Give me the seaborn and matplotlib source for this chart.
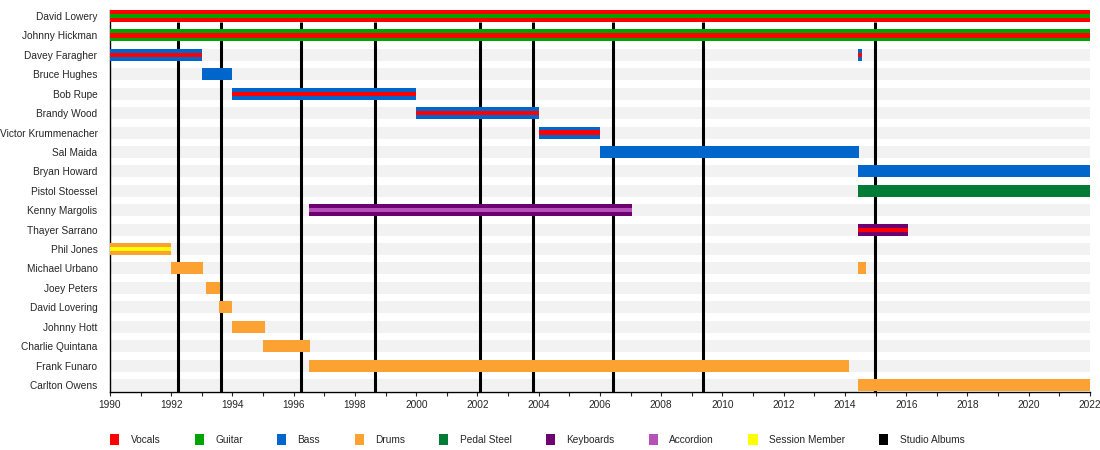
"""Cracker members timeline, redrawn with seaborn/matplotlib."""
import matplotlib
matplotlib.use('Agg')
import matplotlib.pyplot as plt
from matplotlib.patches import Patch
from matplotlib.ticker import MultipleLocator
import seaborn as sns

members = [
    'David Lowery', 'Johnny Hickman', 'Davey Faragher', 'Bruce Hughes',
    'Bob Rupe', 'Brandy Wood', 'Victor Krummenacher', 'Sal Maida',
    'Bryan Howard', 'Pistol Stoessel', 'Kenny Margolis', 'Thayer Sarrano',
    'Phil Jones', 'Michael Urbano', 'Joey Peters', 'David Lovering',
    'Johnny Hott', 'Charlie Quintana', 'Frank Funaro', 'Carlton Owens',
]

roles = ['Vocals', 'Guitar', 'Bass', 'Drums', 'Pedal Steel', 'Keyboards',
         'Accordion', 'Session Member', 'Studio Albums']
role_colors = ['#ff0000', '#00a300', '#0066cc', '#fca232', '#007c36',
               '#6e0072', '#b452b8', '#ffff00', '#000000']

# one entry per bar
bar_member = ['David Lowery', 'Johnny Hickman', 'Davey Faragher', 'Davey Faragher',
              'Bruce Hughes', 'Bob Rupe', 'Brandy Wood', 'Victor Krummenacher',
              'Sal Maida', 'Bryan Howard', 'Pistol Stoessel', 'Kenny Margolis',
              'Thayer Sarrano', 'Phil Jones', 'Michael Urbano', 'Michael Urbano',
              'Joey Peters', 'David Lovering', 'Johnny Hott', 'Charlie Quintana',
              'Frank Funaro', 'Carlton Owens']
bar_start = [1990, 1990, 1990, 2014.42, 1993, 1994, 2000, 2004, 2006, 2014.42,
             2014.42, 1996.5, 2014.42, 1990, 1992, 2014.42, 1993.13, 1993.57,
             1994, 1995, 1996.5, 2014.42]
bar_end = [2022, 2022, 1993, 2014.55, 1994, 2000, 2004, 2006, 2014.45, 2022,
           2022, 2007.05, 2016.05, 1992, 1993.05, 2014.68, 1993.58, 1994,
           1995.05, 1996.53, 2014.12, 2022]
bar_role = ['Vocals', 'Guitar', 'Bass', 'Bass', 'Bass', 'Bass', 'Bass', 'Bass',
            'Bass', 'Bass', 'Pedal Steel', 'Keyboards', 'Keyboards', 'Drums',
            'Drums', 'Drums', 'Drums', 'Drums', 'Drums', 'Drums', 'Drums', 'Drums']
bar_stripe = ['Guitar', 'Vocals', 'Vocals', 'Vocals', None, 'Vocals', 'Vocals',
              'Vocals', None, None, None, 'Accordion', 'Vocals', 'Session Member',
              None, None, None, None, None, None, None, None]

album_years = [1992.22, 1993.62, 1996.24, 1998.65, 2002.08, 2003.81,
               2006.42, 2009.36, 2014.98]

YEAR_MIN, YEAR_MAX = 1990, 2022


def main():
    sns.set_theme(style='white')
    plt.rcParams['font.family'] = ['Liberation Sans', 'DejaVu Sans']
    colors = dict(zip(roles, role_colors))

    fig = plt.figure(figsize=(11, 4.5), dpi=100)
    ax = fig.add_axes([0.1, 0.1289, 0.8909, 0.8489])

    bar_h = 0.62
    stripe_h = 0.22
    rows = list(range(len(members)))

    # light grey row bands
    ax.barh(rows, YEAR_MAX - YEAR_MIN, left=YEAR_MIN, height=bar_h,
            color='#f2f2f2', linewidth=0, zorder=1)

    # studio album markers
    ax.vlines(album_years, bar_h / 2, len(members) - 0.5, color='black',
              linewidth=2.2, zorder=2)

    for name, start, end, role, stripe in zip(bar_member, bar_start, bar_end,
                                              bar_role, bar_stripe):
        y = members.index(name)
        ax.barh(y, end - start, left=start, height=bar_h,
                color=colors[role], linewidth=0, zorder=3)
        if stripe:
            ax.barh(y, end - start, left=start, height=stripe_h,
                    color=colors[stripe], linewidth=0, zorder=4)

    ax.set_xlim(YEAR_MIN, YEAR_MAX)
    ax.set_ylim(len(members) - 1 + 0.36, -bar_h / 2)
    ax.set_yticks(rows)
    ax.set_yticklabels(members, fontsize=7.3)
    ax.tick_params(axis='y', length=0, pad=9)
    ax.xaxis.set_major_locator(MultipleLocator(2))
    ax.xaxis.set_minor_locator(MultipleLocator(1))
    ax.tick_params(axis='x', which='both', direction='out', length=3,
                   width=0.8, labelsize=7.3, pad=3, bottom=True)
    for side in ['top', 'right']:
        ax.spines[side].set_visible(False)
    for side in ['left', 'bottom']:
        ax.spines[side].set_color('black')
        ax.spines[side].set_linewidth(1.0)
    ax.grid(False)

    handles = [Patch(facecolor=c, edgecolor='none') for c in role_colors]
    fig.legend(handles, roles, loc='center left', bbox_to_anchor=(0.092, 0.023),
               ncol=len(roles), frameon=False, fontsize=7.3, handlelength=0.9,
               handleheight=1.3, handletextpad=1.1, columnspacing=3.4)

    fig.savefig('out.png', dpi=100)


if __name__ == '__main__':
    main()
